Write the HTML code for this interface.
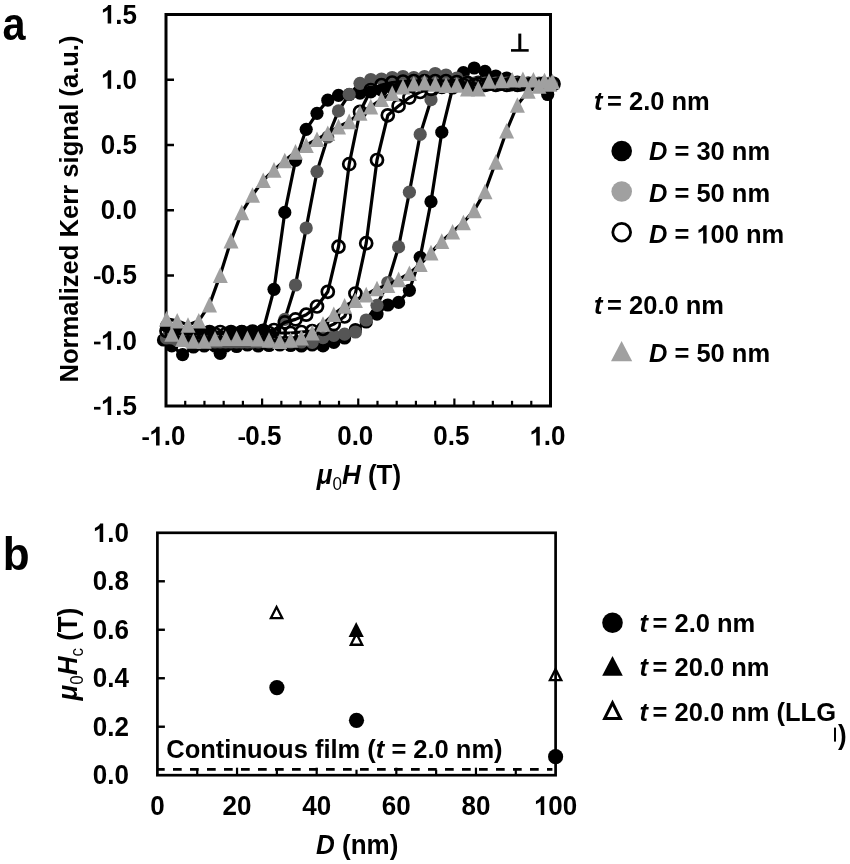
<!DOCTYPE html>
<html><head><meta charset="utf-8"><style>
html,body{margin:0;padding:0;background:#fff;}
body{width:850px;height:864px;position:relative;overflow:hidden;}
svg{filter:grayscale(1);}
</style></head><body>
<svg width="850" height="864" viewBox="0 0 850 864" style="position:absolute;left:0;top:0"><rect width="850" height="864" fill="#fff"/><g font-family='"Liberation Sans", sans-serif' font-weight="bold" fill="#000"><rect x="166.0" y="14.5" width="384.5" height="391.5" fill="none" stroke="#000" stroke-width="3"/><text x="100.86" y="415.00" transform="matrix(1,0,0,1.04,0,-16.600)" font-size="26"> .5</text><rect x="94.00" y="406.90" width="6.5" height="2.7"/><path transform="translate(100.86,415.00) scale(0.01270,-0.01270)" d="M813,0L535,0L535,1057C432,960 300,888 161,842L161,1096C234,1120 314,1166 400,1233C486,1300 545,1378 577,1466L813,1466Z"/><line x1="166.0" y1="340.75" x2="174.0" y2="340.75" stroke="#000" stroke-width="2.5"/><text x="100.86" y="349.75" transform="matrix(1,0,0,1.04,0,-13.990)" font-size="26"> .0</text><rect x="94.00" y="341.65" width="6.5" height="2.7"/><path transform="translate(100.86,349.75) scale(0.01270,-0.01270)" d="M813,0L535,0L535,1057C432,960 300,888 161,842L161,1096C234,1120 314,1166 400,1233C486,1300 545,1378 577,1466L813,1466Z"/><line x1="166.0" y1="275.50" x2="174.0" y2="275.50" stroke="#000" stroke-width="2.5"/><text x="100.86" y="284.50" transform="matrix(1,0,0,1.04,0,-11.380)" font-size="26">0.5</text><rect x="94.00" y="276.40" width="6.5" height="2.7"/><line x1="166.0" y1="210.25" x2="174.0" y2="210.25" stroke="#000" stroke-width="2.5"/><text x="100.86" y="219.25" transform="matrix(1,0,0,1.04,0,-8.770)" font-size="26">0.0</text><line x1="166.0" y1="145.00" x2="174.0" y2="145.00" stroke="#000" stroke-width="2.5"/><text x="100.86" y="154.00" transform="matrix(1,0,0,1.04,0,-6.160)" font-size="26">0.5</text><line x1="166.0" y1="79.75" x2="174.0" y2="79.75" stroke="#000" stroke-width="2.5"/><text x="100.86" y="88.75" transform="matrix(1,0,0,1.04,0,-3.550)" font-size="26"> .0</text><path transform="translate(100.86,88.75) scale(0.01270,-0.01270)" d="M813,0L535,0L535,1057C432,960 300,888 161,842L161,1096C234,1120 314,1166 400,1233C486,1300 545,1378 577,1466L813,1466Z"/><text x="100.86" y="23.50" transform="matrix(1,0,0,1.04,0,-0.940)" font-size="26"> .5</text><path transform="translate(100.86,23.50) scale(0.01270,-0.01270)" d="M813,0L535,0L535,1057C432,960 300,888 161,842L161,1096C234,1120 314,1166 400,1233C486,1300 545,1378 577,1466L813,1466Z"/><line x1="185.22" y1="406.0" x2="185.22" y2="400.8" stroke="#000" stroke-width="2.2"/><line x1="204.45" y1="406.0" x2="204.45" y2="400.8" stroke="#000" stroke-width="2.2"/><line x1="223.68" y1="406.0" x2="223.68" y2="400.8" stroke="#000" stroke-width="2.2"/><line x1="242.90" y1="406.0" x2="242.90" y2="400.8" stroke="#000" stroke-width="2.2"/><line x1="262.12" y1="406.0" x2="262.12" y2="398.5" stroke="#000" stroke-width="2.2"/><line x1="281.35" y1="406.0" x2="281.35" y2="400.8" stroke="#000" stroke-width="2.2"/><line x1="300.58" y1="406.0" x2="300.58" y2="400.8" stroke="#000" stroke-width="2.2"/><line x1="319.80" y1="406.0" x2="319.80" y2="400.8" stroke="#000" stroke-width="2.2"/><line x1="339.02" y1="406.0" x2="339.02" y2="400.8" stroke="#000" stroke-width="2.2"/><line x1="358.25" y1="406.0" x2="358.25" y2="398.5" stroke="#000" stroke-width="2.2"/><line x1="377.48" y1="406.0" x2="377.48" y2="400.8" stroke="#000" stroke-width="2.2"/><line x1="396.70" y1="406.0" x2="396.70" y2="400.8" stroke="#000" stroke-width="2.2"/><line x1="415.93" y1="406.0" x2="415.93" y2="400.8" stroke="#000" stroke-width="2.2"/><line x1="435.15" y1="406.0" x2="435.15" y2="400.8" stroke="#000" stroke-width="2.2"/><line x1="454.38" y1="406.0" x2="454.38" y2="398.5" stroke="#000" stroke-width="2.2"/><line x1="473.60" y1="406.0" x2="473.60" y2="400.8" stroke="#000" stroke-width="2.2"/><line x1="492.83" y1="406.0" x2="492.83" y2="400.8" stroke="#000" stroke-width="2.2"/><line x1="512.05" y1="406.0" x2="512.05" y2="400.8" stroke="#000" stroke-width="2.2"/><line x1="531.28" y1="406.0" x2="531.28" y2="400.8" stroke="#000" stroke-width="2.2"/><text x="149.26" y="445.40" transform="matrix(1,0,0,1.04,0,-17.816)" font-size="26"> .0</text><rect x="142.40" y="437.30" width="6.5" height="2.7"/><path transform="translate(149.26,445.40) scale(0.01270,-0.01270)" d="M813,0L535,0L535,1057C432,960 300,888 161,842L161,1096C234,1120 314,1166 400,1233C486,1300 545,1378 577,1466L813,1466Z"/><text x="245.38" y="445.40" transform="matrix(1,0,0,1.04,0,-17.816)" font-size="26">0.5</text><rect x="238.52" y="437.30" width="6.5" height="2.7"/><text x="337.18" y="445.40" transform="matrix(1,0,0,1.04,0,-17.816)" font-size="26">0.0</text><text x="433.30" y="445.40" transform="matrix(1,0,0,1.04,0,-17.816)" font-size="26">0.5</text><text x="529.43" y="445.40" transform="matrix(1,0,0,1.04,0,-17.816)" font-size="26"> .0</text><path transform="translate(529.43,445.40) scale(0.01270,-0.01270)" d="M813,0L535,0L535,1057C432,960 300,888 161,842L161,1096C234,1120 314,1166 400,1233C486,1300 545,1378 577,1466L813,1466Z"/><g><polyline points="553.5,83.0 542.8,84.0 532.0,84.0 521.2,85.0 510.5,85.0 499.8,84.0 489.0,83.0 478.2,82.0 467.5,82.0 456.8,81.0 446.0,80.0 435.2,80.0 424.5,82.0 413.8,84.0 403.0,86.0 392.2,88.0 381.5,90.0 370.8,91.8 360.0,93.2 349.2,94.5 338.5,95.4 327.8,100.2 317.0,113.3 306.2,129.3 295.5,160.4 284.8,212.4 274.0,289.3 263.2,330.0 252.5,331.5 241.8,331.5 231.0,332.0 220.2,353.3 209.5,332.0 198.8,333.0 188.0,331.0 177.2,332.0 166.5,326.0 163.5,340.0 171.8,345.8 182.6,354.7 193.4,347.0 204.2,346.0 215.0,346.0 225.8,346.0 236.6,346.5 247.4,345.0 258.2,346.0 269.0,345.5 279.8,345.0 290.6,345.5 301.4,346.0 312.2,345.0 323.0,345.9 333.8,342.4 344.6,338.0 355.4,329.5 366.2,322.0 377.0,314.1 387.8,305.0 398.6,302.4 409.4,290.3 420.2,257.3 431.0,201.7 441.8,132.2 452.6,88.0 463.4,72.7 474.2,68.0 485.0,71.3 495.8,76.0 506.6,78.0 517.4,82.0 528.2,83.0 539.0,84.0 547.7,94.5" fill="none" stroke="#000" stroke-width="3.2" stroke-linejoin="round" stroke-linecap="round"/><circle cx="166.5" cy="326.0" r="6.6" fill="#000"/><circle cx="177.2" cy="332.0" r="6.6" fill="#000"/><circle cx="188.0" cy="331.0" r="6.6" fill="#000"/><circle cx="198.8" cy="333.0" r="6.6" fill="#000"/><circle cx="209.5" cy="332.0" r="6.6" fill="#000"/><circle cx="220.2" cy="353.3" r="6.6" fill="#000"/><circle cx="231.0" cy="332.0" r="6.6" fill="#000"/><circle cx="241.8" cy="331.5" r="6.6" fill="#000"/><circle cx="252.5" cy="331.5" r="6.6" fill="#000"/><circle cx="263.2" cy="330.0" r="6.6" fill="#000"/><circle cx="274.0" cy="289.3" r="6.6" fill="#000"/><circle cx="284.8" cy="212.4" r="6.6" fill="#000"/><circle cx="295.5" cy="160.4" r="6.6" fill="#000"/><circle cx="306.2" cy="129.3" r="6.6" fill="#000"/><circle cx="317.0" cy="113.3" r="6.6" fill="#000"/><circle cx="327.8" cy="100.2" r="6.6" fill="#000"/><circle cx="338.5" cy="95.4" r="6.6" fill="#000"/><circle cx="349.2" cy="94.5" r="6.6" fill="#000"/><circle cx="360.0" cy="93.2" r="6.6" fill="#000"/><circle cx="370.8" cy="91.8" r="6.6" fill="#000"/><circle cx="381.5" cy="90.0" r="6.6" fill="#000"/><circle cx="392.2" cy="88.0" r="6.6" fill="#000"/><circle cx="403.0" cy="86.0" r="6.6" fill="#000"/><circle cx="413.8" cy="84.0" r="6.6" fill="#000"/><circle cx="424.5" cy="82.0" r="6.6" fill="#000"/><circle cx="435.2" cy="80.0" r="6.6" fill="#000"/><circle cx="446.0" cy="80.0" r="6.6" fill="#000"/><circle cx="456.8" cy="81.0" r="6.6" fill="#000"/><circle cx="467.5" cy="82.0" r="6.6" fill="#000"/><circle cx="478.2" cy="82.0" r="6.6" fill="#000"/><circle cx="489.0" cy="83.0" r="6.6" fill="#000"/><circle cx="499.8" cy="84.0" r="6.6" fill="#000"/><circle cx="510.5" cy="85.0" r="6.6" fill="#000"/><circle cx="521.2" cy="85.0" r="6.6" fill="#000"/><circle cx="532.0" cy="84.0" r="6.6" fill="#000"/><circle cx="542.8" cy="84.0" r="6.6" fill="#000"/><circle cx="553.5" cy="83.0" r="6.6" fill="#000"/><circle cx="163.5" cy="340.0" r="6.6" fill="#000"/><circle cx="171.8" cy="345.8" r="6.6" fill="#000"/><circle cx="182.6" cy="354.7" r="6.6" fill="#000"/><circle cx="193.4" cy="347.0" r="6.6" fill="#000"/><circle cx="204.2" cy="346.0" r="6.6" fill="#000"/><circle cx="215.0" cy="346.0" r="6.6" fill="#000"/><circle cx="225.8" cy="346.0" r="6.6" fill="#000"/><circle cx="236.6" cy="346.5" r="6.6" fill="#000"/><circle cx="247.4" cy="345.0" r="6.6" fill="#000"/><circle cx="258.2" cy="346.0" r="6.6" fill="#000"/><circle cx="269.0" cy="345.5" r="6.6" fill="#000"/><circle cx="279.8" cy="345.0" r="6.6" fill="#000"/><circle cx="290.6" cy="345.5" r="6.6" fill="#000"/><circle cx="301.4" cy="346.0" r="6.6" fill="#000"/><circle cx="312.2" cy="345.0" r="6.6" fill="#000"/><circle cx="323.0" cy="345.9" r="6.6" fill="#000"/><circle cx="333.8" cy="342.4" r="6.6" fill="#000"/><circle cx="344.6" cy="338.0" r="6.6" fill="#000"/><circle cx="355.4" cy="329.5" r="6.6" fill="#000"/><circle cx="366.2" cy="322.0" r="6.6" fill="#000"/><circle cx="377.0" cy="314.1" r="6.6" fill="#000"/><circle cx="387.8" cy="305.0" r="6.6" fill="#000"/><circle cx="398.6" cy="302.4" r="6.6" fill="#000"/><circle cx="409.4" cy="290.3" r="6.6" fill="#000"/><circle cx="420.2" cy="257.3" r="6.6" fill="#000"/><circle cx="431.0" cy="201.7" r="6.6" fill="#000"/><circle cx="441.8" cy="132.2" r="6.6" fill="#000"/><circle cx="452.6" cy="88.0" r="6.6" fill="#000"/><circle cx="463.4" cy="72.7" r="6.6" fill="#000"/><circle cx="474.2" cy="68.0" r="6.6" fill="#000"/><circle cx="485.0" cy="71.3" r="6.6" fill="#000"/><circle cx="495.8" cy="76.0" r="6.6" fill="#000"/><circle cx="506.6" cy="78.0" r="6.6" fill="#000"/><circle cx="517.4" cy="82.0" r="6.6" fill="#000"/><circle cx="528.2" cy="83.0" r="6.6" fill="#000"/><circle cx="539.0" cy="84.0" r="6.6" fill="#000"/><circle cx="547.7" cy="94.5" r="6.6" fill="#000"/><polyline points="553.5,83.0 542.8,83.0 532.0,83.0 521.2,83.0 510.5,83.0 499.8,83.0 489.0,83.0 478.2,83.0 467.5,82.0 456.8,78.0 446.0,75.0 435.2,73.5 424.5,76.5 413.8,77.5 403.0,76.5 392.2,77.5 381.5,79.0 370.8,79.5 360.0,83.3 349.2,94.4 338.5,110.9 327.8,137.0 317.0,171.6 306.2,228.0 295.5,285.0 284.8,319.3 274.0,337.0 263.2,341.0 252.5,342.0 241.8,342.0 231.0,342.0 220.2,342.0 209.5,342.0 198.8,342.0 188.0,341.0 177.2,340.0 166.5,338.0 171.8,338.0 182.6,339.0 193.4,340.0 204.2,341.0 215.0,342.0 225.8,342.0 236.6,342.0 247.4,342.0 258.2,342.0 269.0,342.0 279.8,342.0 290.6,342.0 301.4,342.0 312.2,342.4 323.0,337.6 333.8,335.3 344.6,334.1 355.4,332.0 366.2,320.0 377.0,305.3 387.8,282.5 398.6,246.9 409.4,192.2 420.2,134.4 431.0,99.7 441.8,86.0 452.6,83.0 463.4,83.0 474.2,83.0 485.0,83.0 495.8,83.0 506.6,83.0 517.4,83.0 528.2,83.0 539.0,83.0 549.8,83.0" fill="none" stroke="#000" stroke-width="3.2" stroke-linejoin="round" stroke-linecap="round"/><circle cx="166.5" cy="338.0" r="6.6" fill="#555555"/><circle cx="177.2" cy="340.0" r="6.6" fill="#555555"/><circle cx="188.0" cy="341.0" r="6.6" fill="#555555"/><circle cx="198.8" cy="342.0" r="6.6" fill="#555555"/><circle cx="209.5" cy="342.0" r="6.6" fill="#555555"/><circle cx="220.2" cy="342.0" r="6.6" fill="#555555"/><circle cx="231.0" cy="342.0" r="6.6" fill="#555555"/><circle cx="241.8" cy="342.0" r="6.6" fill="#555555"/><circle cx="252.5" cy="342.0" r="6.6" fill="#555555"/><circle cx="263.2" cy="341.0" r="6.6" fill="#555555"/><circle cx="274.0" cy="337.0" r="6.6" fill="#555555"/><circle cx="284.8" cy="319.3" r="6.6" fill="#555555"/><circle cx="295.5" cy="285.0" r="6.6" fill="#555555"/><circle cx="306.2" cy="228.0" r="6.6" fill="#555555"/><circle cx="317.0" cy="171.6" r="6.6" fill="#555555"/><circle cx="327.8" cy="137.0" r="6.6" fill="#555555"/><circle cx="338.5" cy="110.9" r="6.6" fill="#555555"/><circle cx="349.2" cy="94.4" r="6.6" fill="#555555"/><circle cx="360.0" cy="83.3" r="6.6" fill="#555555"/><circle cx="370.8" cy="79.5" r="6.6" fill="#555555"/><circle cx="381.5" cy="79.0" r="6.6" fill="#555555"/><circle cx="392.2" cy="77.5" r="6.6" fill="#555555"/><circle cx="403.0" cy="76.5" r="6.6" fill="#555555"/><circle cx="413.8" cy="77.5" r="6.6" fill="#555555"/><circle cx="424.5" cy="76.5" r="6.6" fill="#555555"/><circle cx="435.2" cy="73.5" r="6.6" fill="#555555"/><circle cx="446.0" cy="75.0" r="6.6" fill="#555555"/><circle cx="456.8" cy="78.0" r="6.6" fill="#555555"/><circle cx="467.5" cy="82.0" r="6.6" fill="#555555"/><circle cx="478.2" cy="83.0" r="6.6" fill="#555555"/><circle cx="489.0" cy="83.0" r="6.6" fill="#555555"/><circle cx="499.8" cy="83.0" r="6.6" fill="#555555"/><circle cx="510.5" cy="83.0" r="6.6" fill="#555555"/><circle cx="521.2" cy="83.0" r="6.6" fill="#555555"/><circle cx="532.0" cy="83.0" r="6.6" fill="#555555"/><circle cx="542.8" cy="83.0" r="6.6" fill="#555555"/><circle cx="553.5" cy="83.0" r="6.6" fill="#555555"/><circle cx="171.8" cy="338.0" r="6.6" fill="#555555"/><circle cx="182.6" cy="339.0" r="6.6" fill="#555555"/><circle cx="193.4" cy="340.0" r="6.6" fill="#555555"/><circle cx="204.2" cy="341.0" r="6.6" fill="#555555"/><circle cx="215.0" cy="342.0" r="6.6" fill="#555555"/><circle cx="225.8" cy="342.0" r="6.6" fill="#555555"/><circle cx="236.6" cy="342.0" r="6.6" fill="#555555"/><circle cx="247.4" cy="342.0" r="6.6" fill="#555555"/><circle cx="258.2" cy="342.0" r="6.6" fill="#555555"/><circle cx="269.0" cy="342.0" r="6.6" fill="#555555"/><circle cx="279.8" cy="342.0" r="6.6" fill="#555555"/><circle cx="290.6" cy="342.0" r="6.6" fill="#555555"/><circle cx="301.4" cy="342.0" r="6.6" fill="#555555"/><circle cx="312.2" cy="342.4" r="6.6" fill="#555555"/><circle cx="323.0" cy="337.6" r="6.6" fill="#555555"/><circle cx="333.8" cy="335.3" r="6.6" fill="#555555"/><circle cx="344.6" cy="334.1" r="6.6" fill="#555555"/><circle cx="355.4" cy="332.0" r="6.6" fill="#555555"/><circle cx="366.2" cy="320.0" r="6.6" fill="#555555"/><circle cx="377.0" cy="305.3" r="6.6" fill="#555555"/><circle cx="387.8" cy="282.5" r="6.6" fill="#555555"/><circle cx="398.6" cy="246.9" r="6.6" fill="#555555"/><circle cx="409.4" cy="192.2" r="6.6" fill="#555555"/><circle cx="420.2" cy="134.4" r="6.6" fill="#555555"/><circle cx="431.0" cy="99.7" r="6.6" fill="#555555"/><circle cx="441.8" cy="86.0" r="6.6" fill="#555555"/><circle cx="452.6" cy="83.0" r="6.6" fill="#555555"/><circle cx="463.4" cy="83.0" r="6.6" fill="#555555"/><circle cx="474.2" cy="83.0" r="6.6" fill="#555555"/><circle cx="485.0" cy="83.0" r="6.6" fill="#555555"/><circle cx="495.8" cy="83.0" r="6.6" fill="#555555"/><circle cx="506.6" cy="83.0" r="6.6" fill="#555555"/><circle cx="517.4" cy="83.0" r="6.6" fill="#555555"/><circle cx="528.2" cy="83.0" r="6.6" fill="#555555"/><circle cx="539.0" cy="83.0" r="6.6" fill="#555555"/><circle cx="549.8" cy="83.0" r="6.6" fill="#555555"/><polyline points="553.5,84.0 542.8,84.0 532.0,84.0 521.2,84.0 510.5,84.0 499.8,84.0 489.0,84.0 478.2,84.0 467.5,83.0 456.8,82.0 446.0,81.0 435.2,81.0 424.5,81.0 413.8,81.0 403.0,81.5 392.2,82.5 381.5,85.0 370.8,90.0 360.0,111.8 349.2,164.1 338.5,246.7 327.8,291.8 317.0,306.5 306.2,314.7 295.5,319.4 284.8,322.4 274.0,330.0 263.2,331.0 252.5,331.5 241.8,332.0 231.0,332.0 220.2,332.0 209.5,332.0 198.8,332.0 188.0,332.0 177.2,332.0 166.5,331.0 171.8,333.0 182.6,334.0 193.4,334.0 204.2,334.0 215.0,334.0 225.8,334.0 236.6,334.0 247.4,334.0 258.2,334.0 269.0,333.0 279.8,333.0 290.6,333.0 301.4,332.0 312.2,331.0 323.0,329.0 333.8,324.1 344.6,316.5 355.4,293.5 366.2,243.2 377.0,160.0 387.8,115.3 398.6,105.9 409.4,97.6 420.2,92.0 431.0,89.0 441.8,87.0 452.6,86.0 463.4,85.0 474.2,85.0 485.0,85.0 495.8,85.0 506.6,85.0 517.4,85.0 528.2,85.0 539.0,85.0 549.8,85.0" fill="none" stroke="#000" stroke-width="3.2" stroke-linejoin="round" stroke-linecap="round"/><circle cx="166.5" cy="331.0" r="6.0" fill="none" stroke="#000" stroke-width="2.7"/><circle cx="177.2" cy="332.0" r="6.0" fill="none" stroke="#000" stroke-width="2.7"/><circle cx="188.0" cy="332.0" r="6.0" fill="none" stroke="#000" stroke-width="2.7"/><circle cx="198.8" cy="332.0" r="6.0" fill="none" stroke="#000" stroke-width="2.7"/><circle cx="209.5" cy="332.0" r="6.0" fill="none" stroke="#000" stroke-width="2.7"/><circle cx="220.2" cy="332.0" r="6.0" fill="none" stroke="#000" stroke-width="2.7"/><circle cx="231.0" cy="332.0" r="6.0" fill="none" stroke="#000" stroke-width="2.7"/><circle cx="241.8" cy="332.0" r="6.0" fill="none" stroke="#000" stroke-width="2.7"/><circle cx="252.5" cy="331.5" r="6.0" fill="none" stroke="#000" stroke-width="2.7"/><circle cx="263.2" cy="331.0" r="6.0" fill="none" stroke="#000" stroke-width="2.7"/><circle cx="274.0" cy="330.0" r="6.0" fill="none" stroke="#000" stroke-width="2.7"/><circle cx="284.8" cy="322.4" r="6.0" fill="none" stroke="#000" stroke-width="2.7"/><circle cx="295.5" cy="319.4" r="6.0" fill="none" stroke="#000" stroke-width="2.7"/><circle cx="306.2" cy="314.7" r="6.0" fill="none" stroke="#000" stroke-width="2.7"/><circle cx="317.0" cy="306.5" r="6.0" fill="none" stroke="#000" stroke-width="2.7"/><circle cx="327.8" cy="291.8" r="6.0" fill="none" stroke="#000" stroke-width="2.7"/><circle cx="338.5" cy="246.7" r="6.0" fill="none" stroke="#000" stroke-width="2.7"/><circle cx="349.2" cy="164.1" r="6.0" fill="none" stroke="#000" stroke-width="2.7"/><circle cx="360.0" cy="111.8" r="6.0" fill="none" stroke="#000" stroke-width="2.7"/><circle cx="370.8" cy="90.0" r="6.0" fill="none" stroke="#000" stroke-width="2.7"/><circle cx="381.5" cy="85.0" r="6.0" fill="none" stroke="#000" stroke-width="2.7"/><circle cx="392.2" cy="82.5" r="6.0" fill="none" stroke="#000" stroke-width="2.7"/><circle cx="403.0" cy="81.5" r="6.0" fill="none" stroke="#000" stroke-width="2.7"/><circle cx="413.8" cy="81.0" r="6.0" fill="none" stroke="#000" stroke-width="2.7"/><circle cx="424.5" cy="81.0" r="6.0" fill="none" stroke="#000" stroke-width="2.7"/><circle cx="435.2" cy="81.0" r="6.0" fill="none" stroke="#000" stroke-width="2.7"/><circle cx="446.0" cy="81.0" r="6.0" fill="none" stroke="#000" stroke-width="2.7"/><circle cx="456.8" cy="82.0" r="6.0" fill="none" stroke="#000" stroke-width="2.7"/><circle cx="467.5" cy="83.0" r="6.0" fill="none" stroke="#000" stroke-width="2.7"/><circle cx="478.2" cy="84.0" r="6.0" fill="none" stroke="#000" stroke-width="2.7"/><circle cx="489.0" cy="84.0" r="6.0" fill="none" stroke="#000" stroke-width="2.7"/><circle cx="499.8" cy="84.0" r="6.0" fill="none" stroke="#000" stroke-width="2.7"/><circle cx="510.5" cy="84.0" r="6.0" fill="none" stroke="#000" stroke-width="2.7"/><circle cx="521.2" cy="84.0" r="6.0" fill="none" stroke="#000" stroke-width="2.7"/><circle cx="532.0" cy="84.0" r="6.0" fill="none" stroke="#000" stroke-width="2.7"/><circle cx="542.8" cy="84.0" r="6.0" fill="none" stroke="#000" stroke-width="2.7"/><circle cx="553.5" cy="84.0" r="6.0" fill="none" stroke="#000" stroke-width="2.7"/><circle cx="171.8" cy="333.0" r="6.0" fill="none" stroke="#000" stroke-width="2.7"/><circle cx="182.6" cy="334.0" r="6.0" fill="none" stroke="#000" stroke-width="2.7"/><circle cx="193.4" cy="334.0" r="6.0" fill="none" stroke="#000" stroke-width="2.7"/><circle cx="204.2" cy="334.0" r="6.0" fill="none" stroke="#000" stroke-width="2.7"/><circle cx="215.0" cy="334.0" r="6.0" fill="none" stroke="#000" stroke-width="2.7"/><circle cx="225.8" cy="334.0" r="6.0" fill="none" stroke="#000" stroke-width="2.7"/><circle cx="236.6" cy="334.0" r="6.0" fill="none" stroke="#000" stroke-width="2.7"/><circle cx="247.4" cy="334.0" r="6.0" fill="none" stroke="#000" stroke-width="2.7"/><circle cx="258.2" cy="334.0" r="6.0" fill="none" stroke="#000" stroke-width="2.7"/><circle cx="269.0" cy="333.0" r="6.0" fill="none" stroke="#000" stroke-width="2.7"/><circle cx="279.8" cy="333.0" r="6.0" fill="none" stroke="#000" stroke-width="2.7"/><circle cx="290.6" cy="333.0" r="6.0" fill="none" stroke="#000" stroke-width="2.7"/><circle cx="301.4" cy="332.0" r="6.0" fill="none" stroke="#000" stroke-width="2.7"/><circle cx="312.2" cy="331.0" r="6.0" fill="none" stroke="#000" stroke-width="2.7"/><circle cx="323.0" cy="329.0" r="6.0" fill="none" stroke="#000" stroke-width="2.7"/><circle cx="333.8" cy="324.1" r="6.0" fill="none" stroke="#000" stroke-width="2.7"/><circle cx="344.6" cy="316.5" r="6.0" fill="none" stroke="#000" stroke-width="2.7"/><circle cx="355.4" cy="293.5" r="6.0" fill="none" stroke="#000" stroke-width="2.7"/><circle cx="366.2" cy="243.2" r="6.0" fill="none" stroke="#000" stroke-width="2.7"/><circle cx="377.0" cy="160.0" r="6.0" fill="none" stroke="#000" stroke-width="2.7"/><circle cx="387.8" cy="115.3" r="6.0" fill="none" stroke="#000" stroke-width="2.7"/><circle cx="398.6" cy="105.9" r="6.0" fill="none" stroke="#000" stroke-width="2.7"/><circle cx="409.4" cy="97.6" r="6.0" fill="none" stroke="#000" stroke-width="2.7"/><circle cx="420.2" cy="92.0" r="6.0" fill="none" stroke="#000" stroke-width="2.7"/><circle cx="431.0" cy="89.0" r="6.0" fill="none" stroke="#000" stroke-width="2.7"/><circle cx="441.8" cy="87.0" r="6.0" fill="none" stroke="#000" stroke-width="2.7"/><circle cx="452.6" cy="86.0" r="6.0" fill="none" stroke="#000" stroke-width="2.7"/><circle cx="463.4" cy="85.0" r="6.0" fill="none" stroke="#000" stroke-width="2.7"/><circle cx="474.2" cy="85.0" r="6.0" fill="none" stroke="#000" stroke-width="2.7"/><circle cx="485.0" cy="85.0" r="6.0" fill="none" stroke="#000" stroke-width="2.7"/><circle cx="495.8" cy="85.0" r="6.0" fill="none" stroke="#000" stroke-width="2.7"/><circle cx="506.6" cy="85.0" r="6.0" fill="none" stroke="#000" stroke-width="2.7"/><circle cx="517.4" cy="85.0" r="6.0" fill="none" stroke="#000" stroke-width="2.7"/><circle cx="528.2" cy="85.0" r="6.0" fill="none" stroke="#000" stroke-width="2.7"/><circle cx="539.0" cy="85.0" r="6.0" fill="none" stroke="#000" stroke-width="2.7"/><circle cx="549.8" cy="85.0" r="6.0" fill="none" stroke="#000" stroke-width="2.7"/><polyline points="552.5,81.4 544.5,80.5 533.4,79.7 522.9,79.4 512.2,79.7 501.5,80.5 489.0,81.0 478.2,88.7 467.5,88.7 456.8,85.0 446.0,85.3 435.2,84.0 424.5,82.6 413.8,83.7 403.0,86.8 392.2,93.2 381.5,99.3 370.8,106.6 360.0,112.9 349.2,121.4 338.5,126.6 327.8,133.3 317.0,139.2 306.2,145.2 295.5,151.9 284.8,160.5 274.0,169.9 263.2,180.3 252.5,195.0 241.8,212.4 231.0,240.6 220.2,275.1 209.5,304.6 198.8,320.8 188.0,325.0 177.2,320.8 166.5,318.9 171.8,334.0 182.6,339.1 193.4,341.0 204.2,341.0 215.0,338.8 225.8,338.2 236.6,338.2 247.4,338.2 258.2,338.8 269.0,340.0 279.8,341.2 290.6,340.0 301.4,337.6 312.2,332.6 323.0,324.0 333.8,314.2 344.6,305.9 355.4,300.3 366.2,294.6 377.0,288.5 387.8,285.1 398.6,279.4 409.4,273.3 420.2,264.2 431.0,252.6 441.8,241.1 452.6,231.8 463.4,222.5 474.2,210.4 485.0,191.5 495.8,162.0 506.6,130.7 517.4,105.0 528.2,91.0 539.0,86.0 549.8,84.0" fill="none" stroke="#000" stroke-width="3.2" stroke-linejoin="round" stroke-linecap="round"/><polygon points="166.5,311.1 174.0,326.7 159.0,326.7" fill="#a0a0a0"/><polygon points="177.2,313.0 184.8,328.6 169.8,328.6" fill="#a0a0a0"/><polygon points="188.0,317.2 195.5,332.8 180.5,332.8" fill="#a0a0a0"/><polygon points="198.8,313.0 206.2,328.6 191.2,328.6" fill="#a0a0a0"/><polygon points="209.5,296.8 217.0,312.4 202.0,312.4" fill="#a0a0a0"/><polygon points="220.2,267.3 227.8,282.9 212.8,282.9" fill="#a0a0a0"/><polygon points="231.0,232.8 238.5,248.4 223.5,248.4" fill="#a0a0a0"/><polygon points="241.8,204.6 249.2,220.2 234.2,220.2" fill="#a0a0a0"/><polygon points="252.5,187.2 260.0,202.8 245.0,202.8" fill="#a0a0a0"/><polygon points="263.2,172.5 270.8,188.1 255.8,188.1" fill="#a0a0a0"/><polygon points="274.0,162.1 281.5,177.7 266.5,177.7" fill="#a0a0a0"/><polygon points="284.8,152.7 292.2,168.3 277.2,168.3" fill="#a0a0a0"/><polygon points="295.5,144.1 303.0,159.7 288.0,159.7" fill="#a0a0a0"/><polygon points="306.2,137.4 313.8,153.0 298.8,153.0" fill="#a0a0a0"/><polygon points="317.0,131.4 324.5,147.0 309.5,147.0" fill="#a0a0a0"/><polygon points="327.8,125.5 335.2,141.1 320.2,141.1" fill="#a0a0a0"/><polygon points="338.5,118.8 346.0,134.4 331.0,134.4" fill="#a0a0a0"/><polygon points="349.2,113.6 356.8,129.2 341.8,129.2" fill="#a0a0a0"/><polygon points="360.0,105.1 367.5,120.7 352.5,120.7" fill="#a0a0a0"/><polygon points="370.8,98.8 378.2,114.4 363.2,114.4" fill="#a0a0a0"/><polygon points="381.5,91.5 389.0,107.1 374.0,107.1" fill="#a0a0a0"/><polygon points="392.2,85.4 399.8,101.0 384.8,101.0" fill="#a0a0a0"/><polygon points="403.0,79.0 410.5,94.6 395.5,94.6" fill="#a0a0a0"/><polygon points="413.8,75.9 421.2,91.5 406.2,91.5" fill="#a0a0a0"/><polygon points="424.5,74.8 432.0,90.4 417.0,90.4" fill="#a0a0a0"/><polygon points="435.2,76.2 442.8,91.8 427.8,91.8" fill="#a0a0a0"/><polygon points="446.0,77.5 453.5,93.1 438.5,93.1" fill="#a0a0a0"/><polygon points="456.8,77.2 464.2,92.8 449.2,92.8" fill="#a0a0a0"/><polygon points="467.5,80.9 475.0,96.5 460.0,96.5" fill="#a0a0a0"/><polygon points="478.2,80.9 485.8,96.5 470.8,96.5" fill="#a0a0a0"/><polygon points="489.0,73.2 496.5,88.8 481.5,88.8" fill="#a0a0a0"/><polygon points="501.5,72.7 509.0,88.3 494.0,88.3" fill="#a0a0a0"/><polygon points="512.2,71.9 519.7,87.5 504.7,87.5" fill="#a0a0a0"/><polygon points="522.9,71.6 530.4,87.2 515.4,87.2" fill="#a0a0a0"/><polygon points="533.4,71.9 540.9,87.5 525.9,87.5" fill="#a0a0a0"/><polygon points="544.5,72.7 552.0,88.3 537.0,88.3" fill="#a0a0a0"/><polygon points="552.5,73.6 560.0,89.2 545.0,89.2" fill="#a0a0a0"/><polygon points="171.8,326.2 179.3,341.8 164.3,341.8" fill="#a0a0a0"/><polygon points="182.6,331.3 190.1,346.9 175.1,346.9" fill="#a0a0a0"/><polygon points="193.4,333.2 200.9,348.8 185.9,348.8" fill="#a0a0a0"/><polygon points="204.2,333.2 211.7,348.8 196.7,348.8" fill="#a0a0a0"/><polygon points="215.0,331.0 222.5,346.6 207.5,346.6" fill="#a0a0a0"/><polygon points="225.8,330.4 233.3,346.0 218.3,346.0" fill="#a0a0a0"/><polygon points="236.6,330.4 244.1,346.0 229.1,346.0" fill="#a0a0a0"/><polygon points="247.4,330.4 254.9,346.0 239.9,346.0" fill="#a0a0a0"/><polygon points="258.2,331.0 265.7,346.6 250.7,346.6" fill="#a0a0a0"/><polygon points="269.0,332.2 276.5,347.8 261.5,347.8" fill="#a0a0a0"/><polygon points="279.8,333.4 287.3,349.0 272.3,349.0" fill="#a0a0a0"/><polygon points="290.6,332.2 298.1,347.8 283.1,347.8" fill="#a0a0a0"/><polygon points="301.4,329.8 308.9,345.4 293.9,345.4" fill="#a0a0a0"/><polygon points="312.2,324.8 319.7,340.4 304.7,340.4" fill="#a0a0a0"/><polygon points="323.0,316.2 330.5,331.8 315.5,331.8" fill="#a0a0a0"/><polygon points="333.8,306.4 341.3,322.0 326.3,322.0" fill="#a0a0a0"/><polygon points="344.6,298.1 352.1,313.7 337.1,313.7" fill="#a0a0a0"/><polygon points="355.4,292.5 362.9,308.1 347.9,308.1" fill="#a0a0a0"/><polygon points="366.2,286.8 373.7,302.4 358.7,302.4" fill="#a0a0a0"/><polygon points="377.0,280.7 384.5,296.3 369.5,296.3" fill="#a0a0a0"/><polygon points="387.8,277.3 395.3,292.9 380.3,292.9" fill="#a0a0a0"/><polygon points="398.6,271.6 406.1,287.2 391.1,287.2" fill="#a0a0a0"/><polygon points="409.4,265.5 416.9,281.1 401.9,281.1" fill="#a0a0a0"/><polygon points="420.2,256.4 427.7,272.0 412.7,272.0" fill="#a0a0a0"/><polygon points="431.0,244.8 438.5,260.4 423.5,260.4" fill="#a0a0a0"/><polygon points="441.8,233.3 449.3,248.9 434.3,248.9" fill="#a0a0a0"/><polygon points="452.6,224.0 460.1,239.6 445.1,239.6" fill="#a0a0a0"/><polygon points="463.4,214.7 470.9,230.3 455.9,230.3" fill="#a0a0a0"/><polygon points="474.2,202.6 481.7,218.2 466.7,218.2" fill="#a0a0a0"/><polygon points="485.0,183.7 492.5,199.3 477.5,199.3" fill="#a0a0a0"/><polygon points="495.8,154.2 503.3,169.8 488.3,169.8" fill="#a0a0a0"/><polygon points="506.6,122.9 514.1,138.5 499.1,138.5" fill="#a0a0a0"/><polygon points="517.4,97.2 524.9,112.8 509.9,112.8" fill="#a0a0a0"/><polygon points="528.2,83.2 535.7,98.8 520.7,98.8" fill="#a0a0a0"/><polygon points="539.0,78.2 546.5,93.8 531.5,93.8" fill="#a0a0a0"/><polygon points="549.8,76.2 557.3,91.8 542.3,91.8" fill="#a0a0a0"/></g><line x1="519.8" y1="33.6" x2="519.8" y2="51" stroke="#000" stroke-width="3"/><line x1="511" y1="50.4" x2="528.7" y2="50.4" stroke="#000" stroke-width="2.6"/><text x="359" y="484" transform="matrix(1,0,0,1.04,0,-19.360)" font-size="26" text-anchor="middle"><tspan font-style="italic">μ</tspan><tspan font-weight="normal" font-size="17" dy="6">0</tspan><tspan font-style="italic" dy="-6">H</tspan> (T)</text><text transform="translate(78,209) rotate(-90) scale(1,1.04)" font-size="25.6" text-anchor="middle">Normalized Kerr signal (a.u.)</text><text transform="translate(2.6,39.6) scale(0.92,1.02)" font-size="45">a</text><text x="594" y="110.2" transform="matrix(1,0,0,1.04,0,-4.408)" font-size="25.5"><tspan font-style="italic">t</tspan><tspan dx="-2.5"> = </tspan>2.0 nm</text><circle cx="621.7" cy="151" r="10.3" fill="#000"/><text x="649" y="160" transform="matrix(1,0,0,1.04,0,-6.400)" font-size="25.5"><tspan font-style="italic">D</tspan> = 30 nm</text><circle cx="621.7" cy="191.5" r="10.3" fill="#a0a0a0"/><text x="649" y="202" transform="matrix(1,0,0,1.04,0,-8.080)" font-size="25.5"><tspan font-style="italic">D</tspan> = 50 nm</text><circle cx="621.7" cy="232.3" r="8.9" fill="#fff" stroke="#000" stroke-width="2.8"/><text x="649" y="243.5" transform="matrix(1,0,0,1.04,0,-9.740)" font-size="25.5"><tspan font-style="italic">D</tspan> =  00 nm</text><path transform="translate(696.48,243.50) scale(0.01245,-0.01245)" d="M813,0L535,0L535,1057C432,960 300,888 161,842L161,1096C234,1120 314,1166 400,1233C486,1300 545,1378 577,1466L813,1466Z"/><text x="594" y="313.8" transform="matrix(1,0,0,1.04,0,-12.552)" font-size="25.5"><tspan font-style="italic">t</tspan><tspan dx="-2.5"> = </tspan>20.0 nm</text><polygon points="621.6,340.9 632.2,361.2 611,361.2" fill="#a0a0a0"/><text x="649" y="362.2" transform="matrix(1,0,0,1.04,0,-14.488)" font-size="25.5"><tspan font-style="italic">D</tspan> = 50 nm</text><rect x="157.4" y="532.8" width="398.20000000000005" height="242.4000000000001" fill="none" stroke="#000" stroke-width="2.7"/><line x1="157.4" y1="769.4" x2="552.4" y2="769.4" stroke="#000" stroke-width="2.6" stroke-dasharray="8.7 8.3" stroke-dashoffset="1.4"/><text x="92.86" y="784.40" transform="matrix(1,0,0,1.04,0,-31.376)" font-size="26">0.0</text><line x1="157.4" y1="726.72" x2="164.9" y2="726.72" stroke="#000" stroke-width="2.4"/><text x="92.86" y="735.92" transform="matrix(1,0,0,1.04,0,-29.437)" font-size="26">0.2</text><line x1="157.4" y1="678.24" x2="164.9" y2="678.24" stroke="#000" stroke-width="2.4"/><text x="92.86" y="687.44" transform="matrix(1,0,0,1.04,0,-27.498)" font-size="26">0.4</text><line x1="157.4" y1="629.76" x2="164.9" y2="629.76" stroke="#000" stroke-width="2.4"/><text x="92.86" y="638.96" transform="matrix(1,0,0,1.04,0,-25.558)" font-size="26">0.6</text><line x1="157.4" y1="581.28" x2="164.9" y2="581.28" stroke="#000" stroke-width="2.4"/><text x="92.86" y="590.48" transform="matrix(1,0,0,1.04,0,-23.619)" font-size="26">0.8</text><text x="92.86" y="542.00" transform="matrix(1,0,0,1.04,0,-21.680)" font-size="26"> .0</text><path transform="translate(92.86,542.00) scale(0.01270,-0.01270)" d="M813,0L535,0L535,1057C432,960 300,888 161,842L161,1096C234,1120 314,1166 400,1233C486,1300 545,1378 577,1466L813,1466Z"/><text x="150.17" y="814.90" transform="matrix(1,0,0,1.04,0,-32.596)" font-size="26">0</text><line x1="197.22" y1="775.2" x2="197.22" y2="769.7" stroke="#000" stroke-width="2.2"/><line x1="237.04" y1="775.2" x2="237.04" y2="767.7" stroke="#000" stroke-width="2.2"/><text x="222.58" y="814.90" transform="matrix(1,0,0,1.04,0,-32.596)" font-size="26">20</text><line x1="276.86" y1="775.2" x2="276.86" y2="769.7" stroke="#000" stroke-width="2.2"/><line x1="316.68" y1="775.2" x2="316.68" y2="767.7" stroke="#000" stroke-width="2.2"/><text x="302.22" y="814.90" transform="matrix(1,0,0,1.04,0,-32.596)" font-size="26">40</text><line x1="356.50" y1="775.2" x2="356.50" y2="769.7" stroke="#000" stroke-width="2.2"/><line x1="396.32" y1="775.2" x2="396.32" y2="767.7" stroke="#000" stroke-width="2.2"/><text x="381.86" y="814.90" transform="matrix(1,0,0,1.04,0,-32.596)" font-size="26">60</text><line x1="436.14" y1="775.2" x2="436.14" y2="769.7" stroke="#000" stroke-width="2.2"/><line x1="475.96" y1="775.2" x2="475.96" y2="767.7" stroke="#000" stroke-width="2.2"/><text x="461.50" y="814.90" transform="matrix(1,0,0,1.04,0,-32.596)" font-size="26">80</text><line x1="515.78" y1="775.2" x2="515.78" y2="769.7" stroke="#000" stroke-width="2.2"/><text x="533.91" y="814.90" transform="matrix(1,0,0,1.04,0,-32.596)" font-size="26"> 00</text><path transform="translate(533.91,814.90) scale(0.01270,-0.01270)" d="M813,0L535,0L535,1057C432,960 300,888 161,842L161,1096C234,1120 314,1166 400,1233C486,1300 545,1378 577,1466L813,1466Z"/><text x="166.3" y="758.3" transform="matrix(1,0,0,1.04,0,-30.332)" font-size="25.5">Continuous film (<tspan font-style="italic">t</tspan> = 2.0 nm)</text><path d="M276.56,604.40L284.11,619.20L269.01,619.20ZM276.56,609.46L280.35,616.90L272.77,616.90Z" fill="#000" fill-rule="evenodd"/><path d="M356.50,631.10L364.05,645.90L348.95,645.90ZM356.50,636.16L360.29,643.60L352.71,643.60Z" fill="#000" fill-rule="evenodd"/><path d="M555.60,666.40L563.15,681.20L548.05,681.20ZM555.60,671.46L559.39,678.90L551.81,678.90Z" fill="#000" fill-rule="evenodd"/><polygon points="356.2,622.1 363.8,636.9 348.6,636.9" fill="#000"/><circle cx="276.9" cy="687.6" r="7.6" fill="#000"/><circle cx="356.5" cy="720.3" r="7.6" fill="#000"/><circle cx="555.6" cy="756.7" r="7.6" fill="#000"/><text x="357.2" y="853.9" transform="matrix(1,0,0,1.04,0,-34.156)" font-size="26" text-anchor="middle"><tspan font-style="italic">D</tspan> (nm)</text><text transform="translate(77,654) rotate(-90) scale(1,1.04)" font-size="26" text-anchor="middle"><tspan font-style="italic">μ</tspan><tspan font-weight="normal" font-size="17" dy="6">0</tspan><tspan font-style="italic" dy="-6">H</tspan><tspan font-weight="normal" font-size="17" dy="6">c</tspan><tspan dy="-6"> (T)</tspan></text><text x="2.8" y="569.8" transform="matrix(1,0,0,1.04,0,-22.792)" font-size="44">b</text><circle cx="612.5" cy="622.8" r="10.3" fill="#000"/><text x="639.5" y="632.1" transform="matrix(1,0,0,1.04,0,-25.284)" font-size="25.5"><tspan font-style="italic">t</tspan><tspan dx="-2.5"> = </tspan>2.0 nm</text><polygon points="612.5,655.9 622.8,675.7 602.2,675.7" fill="#000"/><text x="639.5" y="675.7" transform="matrix(1,0,0,1.04,0,-27.028)" font-size="25.5"><tspan font-style="italic">t</tspan><tspan dx="-2.5"> = </tspan>20.0 nm</text><path d="M612.50,699.50L622.80,720.10L602.20,720.10ZM612.50,706.21L617.95,717.10L607.05,717.10Z" fill="#000" fill-rule="evenodd"/><text x="639.5" y="720.6" transform="matrix(1,0,0,1.04,0,-28.824)" font-size="25.5"><tspan font-style="italic">t</tspan><tspan dx="-2.5"> = </tspan>20.0 nm (LLG</text><rect x="834" y="727.6" width="2" height="14" fill="#000"/><text x="838" y="744" transform="matrix(1,0,0,1.04,0,-29.760)" font-size="26">)</text></g></svg>
</body></html>
